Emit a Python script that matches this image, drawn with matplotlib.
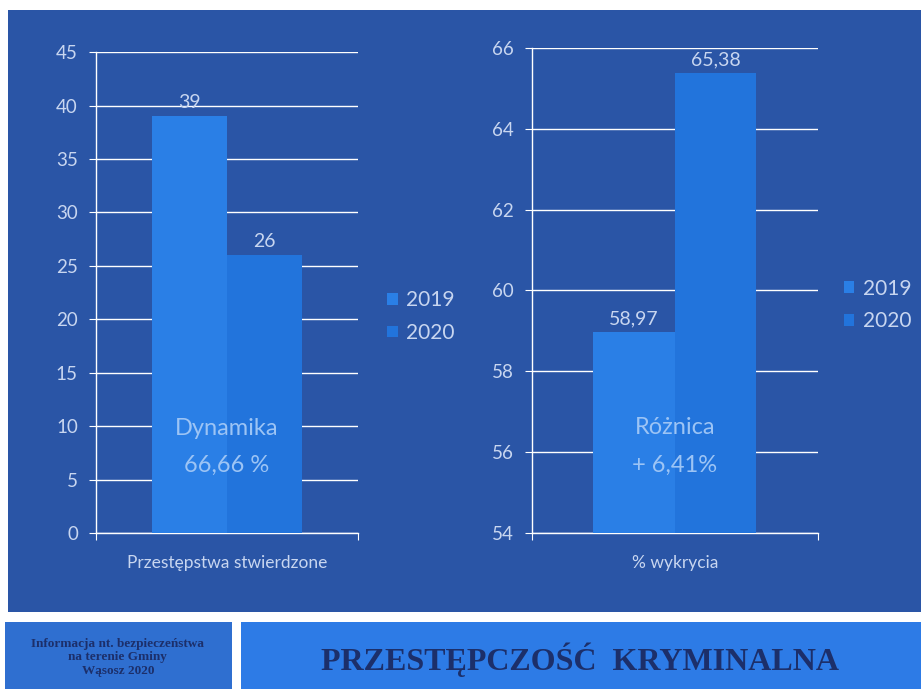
import matplotlib
matplotlib.use("Agg")
import matplotlib.pyplot as plt
from matplotlib.patches import Rectangle

# data
years = ["2019", "2020"]
stwierdzone = [39, 26]
stwierdzone_labels = ["39", "26"]
wykrycie = [58.97, 65.38]
wykrycie_labels = ["58,97", "65,38"]
left_ticks = [0, 5, 10, 15, 20, 25, 30, 35, 40, 45]
right_ticks = [54, 56, 58, 60, 62, 64, 66]

PANEL = "#2a55a6"
BAR_COLORS = ["#2a7fe6", "#2274dc"]
TXT = "#c8d6f0"
ANNOT = "#9cc4f5"

plt.rcParams["font.family"] = ["Lato", "DejaVu Sans"]

fig = plt.figure(figsize=(9.21, 6.89), dpi=100)
fig.patch.set_facecolor("white")

# slide background
fig.add_artist(Rectangle((0.0087, 0.112), 0.995, 0.874, transform=fig.transFigure,
                         facecolor=PANEL, edgecolor="none", zorder=0))
# bottom banner boxes
fig.add_artist(Rectangle((0.005, -0.01), 0.247, 0.107, transform=fig.transFigure,
                         facecolor="#2f6fd0", edgecolor="none", zorder=0))
fig.add_artist(Rectangle((0.262, -0.01), 0.74, 0.107, transform=fig.transFigure,
                         facecolor="#2d7be6", edgecolor="none", zorder=0))
fig.text(0.63, 0.042, "PRZESTĘPCZOŚĆ  KRYMINALNA", ha="center", va="center",
         family="Liberation Serif", fontweight="bold", fontsize=23, color="#1c2f6a")
fig.text(0.128, 0.046, "Informacja nt. bezpieczeństwa\nna terenie Gminy\nWąsosz 2020",
         ha="center", va="center", family="Liberation Serif", fontweight="bold",
         fontsize=9.5, color="#1c2f6a", linespacing=1.2)


def draw_chart(rect, values, labels, ticks, ylim, xlabel, note, leg_anchor):
    ax = fig.add_axes(rect)
    ax.set_facecolor("none")
    w = 0.285
    xs = [-w / 2, w / 2]
    for i, (x, v) in enumerate(zip(xs, values)):
        ax.bar(x, v - ylim[0], width=w, bottom=ylim[0], color=BAR_COLORS[i],
               label=years[i], zorder=3)
        ax.text(x, v + (ylim[1] - ylim[0]) * 0.01, labels[i],
                ha="center", va="bottom", color=TXT, fontsize=14, zorder=4)
    ax.set_xlim(-0.5, 0.5)
    ax.set_ylim(*ylim)
    ax.set_yticks(ticks)
    ax.set_yticklabels([str(t) for t in ticks])
    ax.set_xticks([-0.5, 0.5])
    ax.set_xticklabels(["", ""])
    ax.grid(axis="y", color="white", linewidth=1.0, zorder=0)
    for s in ["top", "right"]:
        ax.spines[s].set_visible(False)
    for s in ["left", "bottom"]:
        ax.spines[s].set_color("white")
        ax.spines[s].set_linewidth(1.0)
    ax.tick_params(axis="y", colors="white", labelcolor=TXT, labelsize=13.5,
                   length=5, pad=8)
    ax.tick_params(axis="x", colors="white", length=5)
    ax.set_xlabel(xlabel, color=TXT, fontsize=12.5, labelpad=7)
    ax.text(0, ylim[0] + (ylim[1] - ylim[0]) * 0.218, note[0], ha="center",
            va="center", color=ANNOT, fontsize=17, zorder=4)
    ax.text(0, ylim[0] + (ylim[1] - ylim[0]) * 0.14, note[1], ha="center",
            va="center", color=ANNOT, fontsize=17, zorder=4)
    leg = ax.legend(loc="center left", bbox_to_anchor=leg_anchor, frameon=False,
                    handlelength=0.5, handleheight=0.5, handletextpad=0.4,
                    labelspacing=0.6, fontsize=15)
    for t in leg.get_texts():
        t.set_color(TXT)
    return ax


draw_chart([0.1042, 0.2264, 0.2845, 0.698], stwierdzone, stwierdzone_labels,
           left_ticks, (0, 45), "Przestępstwa stwierdzone",
           ("Dynamika", "66,66 %"), (1.04, 0.45))
draw_chart([0.5776, 0.2264, 0.3105, 0.704], wykrycie, wykrycie_labels,
           right_ticks, (54, 66), "% wykrycia",
           ("Różnica", "+ 6,41%"), (1.025, 0.47))

fig.savefig("out.png", dpi=100, facecolor=fig.get_facecolor())
